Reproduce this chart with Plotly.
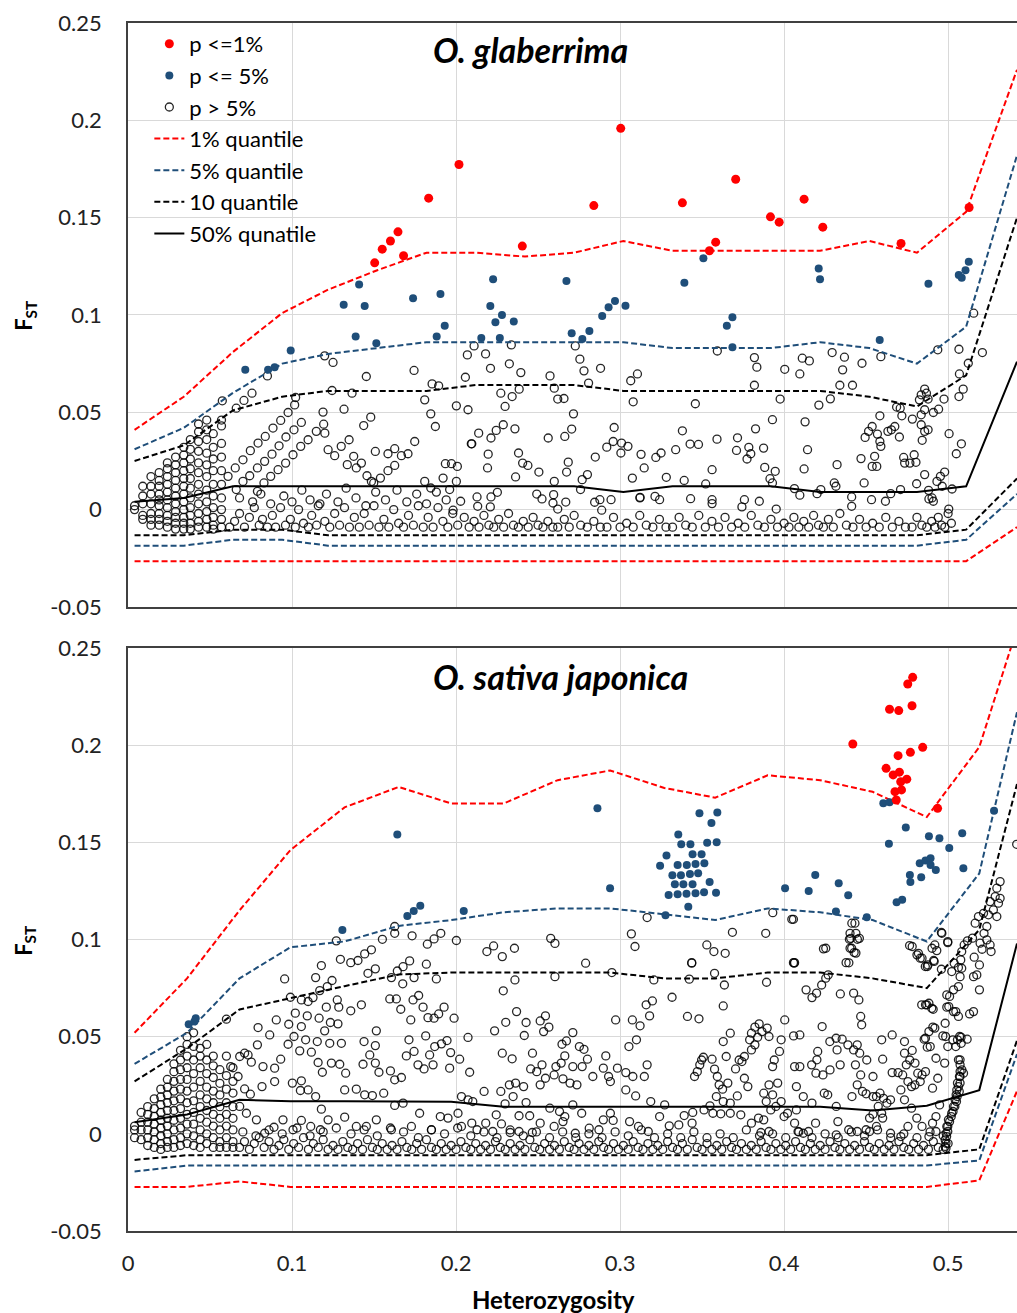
import plotly.graph_objects as go

# ---------------- quantile lines ----------------
qx_top = [0.004, 0.034, 0.064, 0.094, 0.122, 0.152, 0.182, 0.212, 0.242, 0.272, 0.302,
          0.332, 0.362, 0.392, 0.422, 0.452, 0.481, 0.511, 0.542]
q1_hi_top = [0.041, 0.058, 0.081, 0.101, 0.113, 0.123, 0.132, 0.132, 0.130, 0.132, 0.138,
             0.133, 0.133, 0.133, 0.133, 0.138, 0.132, 0.153, 0.226]
q5_hi_top = [0.031, 0.042, 0.060, 0.075, 0.080, 0.083, 0.086, 0.086, 0.086, 0.086, 0.086,
             0.083, 0.083, 0.083, 0.086, 0.083, 0.075, 0.094, 0.182]
q10_hi_top = [0.025, 0.033, 0.051, 0.058, 0.061, 0.061, 0.061, 0.064, 0.064, 0.064, 0.061,
              0.061, 0.061, 0.061, 0.061, 0.058, 0.053, 0.069, 0.150]
q50_top = [0.004, 0.006, 0.012, 0.012, 0.012, 0.012, 0.012, 0.012, 0.012, 0.012, 0.009,
           0.012, 0.012, 0.012, 0.009, 0.009, 0.009, 0.012, 0.076]
q10_lo_top = [-0.0132, -0.0132, -0.0103, -0.0103, -0.0132, -0.0132, -0.0132, -0.0132, -0.0132,
              -0.0132, -0.0132, -0.0132, -0.0132, -0.0132, -0.0132, -0.0132, -0.0132, -0.0103, 0.016]
q5_lo_top = [-0.0185, -0.0185, -0.0155, -0.0155, -0.0185, -0.0185, -0.0185, -0.0185, -0.0185,
             -0.0185, -0.0185, -0.0185, -0.0185, -0.0185, -0.0185, -0.0185, -0.0185, -0.0155, 0.008]
q1_lo_top = [-0.0265, -0.0265, -0.0265, -0.0265, -0.0265, -0.0265, -0.0265, -0.0265, -0.0265,
             -0.0265, -0.0265, -0.0265, -0.0265, -0.0265, -0.0265, -0.0265, -0.0265, -0.0265, -0.009]

qx_bot = [0.004, 0.036, 0.068, 0.099, 0.132, 0.165, 0.197, 0.229, 0.262, 0.294, 0.327,
          0.358, 0.390, 0.422, 0.454, 0.487, 0.519, 0.542]
q1_hi_bot = [0.052, 0.080, 0.115, 0.146, 0.168, 0.1785, 0.170, 0.170, 0.182, 0.187, 0.178,
             0.173, 0.1845, 0.182, 0.176, 0.163, 0.199, 0.260]
q5_hi_bot = [0.036, 0.052, 0.080, 0.096, 0.099, 0.107, 0.110, 0.114, 0.116, 0.116, 0.113,
             0.110, 0.116, 0.114, 0.110, 0.099, 0.134, 0.217]
q10_hi_bot = [0.027, 0.044, 0.064, 0.070, 0.076, 0.082, 0.083, 0.083, 0.083, 0.083, 0.080,
              0.080, 0.083, 0.083, 0.080, 0.075, 0.105, 0.180]
q50_bot = [0.006, 0.010, 0.0175, 0.0168, 0.0168, 0.0168, 0.0165, 0.014, 0.014, 0.014, 0.014,
           0.014, 0.014, 0.014, 0.012, 0.0145, 0.0225, 0.098]
q10_lo_bot = [-0.0134, -0.011, -0.011, -0.011, -0.011, -0.011, -0.011, -0.011, -0.011, -0.011,
              -0.011, -0.011, -0.011, -0.011, -0.011, -0.011, -0.008, 0.048]
q5_lo_bot = [-0.0194, -0.0163, -0.0163, -0.0163, -0.0163, -0.0163, -0.0163, -0.0163, -0.0163,
             -0.0163, -0.0163, -0.0163, -0.0163, -0.0163, -0.0163, -0.0163, -0.0137, 0.041]
q1_lo_bot = [-0.0273, -0.0273, -0.0245, -0.0273, -0.0273, -0.0273, -0.0273, -0.0273, -0.0273,
             -0.0273, -0.0273, -0.0273, -0.0273, -0.0273, -0.0273, -0.0273, -0.024, 0.022]

# ---------------- significant loci ----------------
top_red = [(0.1504, 0.1268), (0.1550, 0.1338), (0.1600, 0.1380), (0.1646, 0.1427), (0.1680, 0.1304),
           (0.1833, 0.1600), (0.2018, 0.1773), (0.2404, 0.1354), (0.2840, 0.1562), (0.3004, 0.1959),
           (0.3380, 0.1576), (0.3583, 0.1374), (0.3545, 0.1330), (0.3705, 0.1697), (0.3917, 0.1504),
           (0.3970, 0.1477), (0.4122, 0.1595), (0.4236, 0.1451), (0.4713, 0.1367), (0.5128, 0.1552)]
top_blue = [(0.0715, 0.0718), (0.0854, 0.0718), (0.0894, 0.0732), (0.0992, 0.0817), (0.1315, 0.1053),
            (0.1443, 0.1046), (0.1409, 0.1157), (0.1388, 0.0889), (0.1514, 0.0855), (0.1738, 0.1086),
            (0.1882, 0.0889), (0.1931, 0.0944), (0.1905, 0.1108), (0.2226, 0.1183), (0.2209, 0.1046),
            (0.2280, 0.1000), (0.2240, 0.0962), (0.2352, 0.0966), (0.2154, 0.0882), (0.2267, 0.0882),
            (0.2673, 0.1174), (0.2705, 0.0906), (0.2770, 0.0877), (0.2813, 0.0918), (0.2891, 0.0995),
            (0.2930, 0.1040), (0.2969, 0.1072), (0.3033, 0.1048), (0.3392, 0.1166), (0.3508, 0.1291),
            (0.3651, 0.0945), (0.3685, 0.0988), (0.3685, 0.0834), (0.4211, 0.1239), (0.4219, 0.1183),
            (0.4583, 0.0872), (0.4880, 0.1161), (0.5065, 0.1205), (0.5083, 0.1191), (0.5106, 0.1230),
            (0.5126, 0.1273)]
bot_red = [(0.4419, 0.2006), (0.4643, 0.2185), (0.4699, 0.2178), (0.4754, 0.2315), (0.4784, 0.2349),
           (0.4780, 0.2203), (0.4845, 0.1989), (0.4695, 0.1946), (0.4770, 0.1963), (0.4622, 0.1881),
           (0.4665, 0.1847), (0.4703, 0.1861), (0.4711, 0.1812), (0.4748, 0.1825), (0.4676, 0.1761),
           (0.4716, 0.1770), (0.4684, 0.1718), (0.4936, 0.1675)]
bot_blue = [(0.0370, 0.0564), (0.0413, 0.0595), (0.0405, 0.0578), (0.1307, 0.1049), (0.1642, 0.1540),
            (0.1703, 0.1121), (0.1742, 0.1147), (0.1782, 0.1174), (0.2047, 0.1147), (0.2862, 0.1675),
            (0.2939, 0.1264),
            (0.3484, 0.1650), (0.3593, 0.1653), (0.3557, 0.1600), (0.3355, 0.1540), (0.3373, 0.1490),
            (0.3429, 0.1490), (0.3531, 0.1498), (0.3589, 0.1500), (0.3283, 0.1432), (0.3442, 0.1439),
            (0.3497, 0.1439), (0.3244, 0.1379), (0.3351, 0.1384), (0.3407, 0.1384), (0.3460, 0.1389),
            (0.3514, 0.1393), (0.3319, 0.1331), (0.3371, 0.1331), (0.3426, 0.1337), (0.3476, 0.1341),
            (0.3334, 0.1284), (0.3386, 0.1284), (0.3442, 0.1284), (0.3546, 0.1296), (0.3296, 0.1229),
            (0.3351, 0.1233), (0.3405, 0.1235), (0.3460, 0.1238), (0.3512, 0.1243), (0.3585, 0.1241),
            (0.3416, 0.1169), (0.3277, 0.1125),
            (0.4006, 0.1264), (0.4150, 0.1250), (0.4190, 0.1332), (0.4333, 0.1290), (0.4391, 0.1228),
            (0.4316, 0.1144), (0.4504, 0.1115), (0.4605, 0.1701), (0.4643, 0.1706), (0.4742, 0.1576),
            (0.4639, 0.1493), (0.4883, 0.1531), (0.4947, 0.1521), (0.5086, 0.1547), (0.5007, 0.1471),
            (0.4827, 0.1393), (0.4862, 0.1406), (0.4893, 0.1418), (0.4893, 0.1384), (0.4925, 0.1358),
            (0.4767, 0.1332), (0.4770, 0.1296), (0.4836, 0.1320), (0.5093, 0.1367), (0.4686, 0.1192),
            (0.4720, 0.1204), (0.5280, 0.1663)]

# ---------------- non-significant loci (p > 5%) ----------------
top_dense_cols = {
    0.004: [0.002, 0.000],
    0.009: [0.012, 0.007, 0.003, -0.003, -0.005],
    0.014: [0.017, 0.012, 0.008, 0.003, -0.002, -0.005, -0.008],
    0.019: [0.019, 0.015, 0.012, 0.008, 0.005, 0.002, -0.002, -0.005, -0.008],
    0.024: [0.024, 0.021, 0.017, 0.013, 0.009, 0.005, 0.001, -0.003, -0.006, -0.009],
    0.029: [0.027, 0.023, 0.019, 0.015, 0.011, 0.007, 0.003, -0.001, -0.004, -0.007, -0.010],
    0.034: [0.032, 0.028, 0.024, 0.020, 0.016, 0.012, 0.008, 0.004, 0.000, -0.004, -0.007, -0.010],
    0.038: [0.036, 0.031, 0.026, 0.021, 0.016, 0.011, 0.006, 0.001, -0.003, -0.007, -0.010],
    0.043: [0.044, 0.040, 0.035, 0.030, 0.024, 0.019, 0.013, 0.008, 0.003, -0.002, -0.006, -0.009],
    0.048: [0.046, 0.041, 0.036, 0.029, 0.023, 0.017, 0.010, 0.004, -0.001, -0.005, -0.009],
    0.052: [0.039, 0.032, 0.026, 0.020, 0.013, 0.007, 0.001, -0.004, -0.008, -0.010],
    0.057: [0.046, 0.043, 0.034, 0.027, 0.020, 0.013, 0.006, 0.000, -0.005, -0.009],
}
top_open = [
    (0.0575, 0.0559), (0.066, 0.0521), (0.0707, 0.0561), (0.0756, 0.0598), (0.085, 0.0687),
    (0.1022, 0.0576), (0.1016, 0.0538), (0.0976, 0.0499), (0.0931, 0.0458), (0.0884, 0.0419),
    (0.0837, 0.0376), (0.0793, 0.0342), (0.0746, 0.0303), (0.0701, 0.0256), (0.0654, 0.0214),
    (0.061, 0.0171), (0.1199, 0.079), (0.125, 0.0756), (0.1453, 0.0684), (0.1244, 0.0612),
    (0.1366, 0.0598), (0.1317, 0.0516), (0.1189, 0.0501), (0.148, 0.0475), (0.1437, 0.0432),
    (0.1193, 0.0439), (0.1057, 0.0448), (0.1012, 0.041), (0.0963, 0.0373), (0.0921, 0.0328),
    (0.0878, 0.0285), (0.0833, 0.0248), (0.0789, 0.0214), (0.0742, 0.0174), (0.0701, 0.0145),
    (0.066, 0.0103), (0.12, 0.0393), (0.1148, 0.0402), (0.1098, 0.0359), (0.1053, 0.0325),
    (0.1006, 0.0282), (0.0961, 0.0239), (0.0915, 0.0205), (0.087, 0.0171), (0.0829, 0.0137),
    (0.0789, 0.0094), (0.122, 0.0308), (0.130, 0.0325), (0.1348, 0.0359), (0.126, 0.0277),
    (0.1337, 0.0231), (0.1376, 0.0274), (0.1392, 0.0214), (0.1423, 0.0239), (0.1457, 0.0174),
    (0.1498, 0.0137), (0.1508, 0.0299), (0.1585, 0.0287), (0.1626, 0.0313), (0.1667, 0.0277),
    (0.1707, 0.0287), (0.1748, 0.035), (0.1626, 0.0227), (0.1585, 0.02), (0.1539, 0.0162),
    (0.1484, 0.0145), (0.1744, 0.0715), (0.1809, 0.0564), (0.1846, 0.0492), (0.1874, 0.0427),
    (0.1854, 0.0646), (0.1894, 0.0636), (0.2002, 0.0533), (0.2057, 0.068), (0.2069, 0.0795),
    (0.2073, 0.0513), (0.2093, 0.0338), (0.1935, 0.0236), (0.1972, 0.0236), (0.2008, 0.0222),
    (0.1921, 0.0162), (0.1809, 0.0145), (0.1846, 0.0111), (0.1961, 0.0103), (0.2002, 0.0145),
    (0.2028, 0.0043), (0.1982, -0.0003),
    (0.068, 0.006), (0.076, 0.004), (0.081, 0.008), (0.087, 0.003), (0.095, 0.007), (0.100, 0.004),
    (0.106, 0.010), (0.111, 0.005), (0.116, 0.002), (0.121, 0.008), (0.128, 0.004), (0.133, 0.011),
    (0.139, 0.006), (0.145, 0.002), (0.151, 0.009), (0.157, 0.005), (0.164, 0.010), (0.170, 0.004),
    (0.176, 0.008), (0.182, 0.003), (0.188, 0.009), (0.194, 0.005),
    (0.211, 0.0841), (0.218, 0.080), (0.221, 0.0726), (0.2325, 0.0749), (0.2395, 0.0704),
    (0.2337, 0.0846), (0.2573, 0.0687), (0.2599, 0.0624), (0.262, 0.0568), (0.2658, 0.0571),
    (0.2385, 0.0619), (0.2342, 0.0581), (0.2273, 0.0598), (0.2299, 0.053), (0.2727, 0.0841),
    (0.2755, 0.0773), (0.278, 0.0713), (0.2881, 0.0726), (0.2808, 0.065), (0.2716, 0.0492),
    (0.2705, 0.0414), (0.2288, 0.0436), (0.2359, 0.0415), (0.2245, 0.0407), (0.2213, 0.0368),
    (0.2138, 0.0393), (0.2096, 0.0338), (0.2196, 0.0285), (0.2381, 0.0291), (0.2406, 0.0239),
    (0.2438, 0.0227), (0.2192, 0.0214), (0.2363, 0.0168), (0.2505, 0.0193), (0.2562, 0.0368),
    (0.2663, 0.0376), (0.2684, 0.0244), (0.2674, 0.0193), (0.2599, 0.0145), (0.2769, 0.0154),
    (0.2801, 0.018), (0.2849, 0.027), (0.2919, 0.0321), (0.2958, 0.035), (0.2964, 0.0422),
    (0.3009, 0.0342), (0.3048, 0.0325), (0.3005, 0.0291), (0.3065, 0.0662), (0.3106, 0.0697),
    (0.308, 0.0554), (0.3128, 0.0284), (0.3147, 0.0214), (0.3218, 0.0268), (0.325, 0.0291),
    (0.3075, 0.0162), (0.3122, 0.0063), (0.3282, 0.0166), (0.3339, 0.0308), (0.338, 0.0405),
    (0.3427, 0.0337), (0.3478, 0.0335), (0.3459, 0.0544), (0.3391, 0.015), (0.343, 0.0056),
    (0.3522, 0.0132), (0.3561, 0.0205), (0.3591, 0.0362), (0.3593, 0.0815), (0.3716, 0.0369),
    (0.371, 0.0304), (0.3785, 0.032), (0.3797, 0.0287), (0.3774, 0.026), (0.3826, 0.0415),
    (0.3875, 0.0316), (0.3882, 0.0217), (0.3929, 0.0462), (0.3819, 0.0781), (0.3834, 0.0732),
    (0.3819, 0.0639), (0.3946, 0.0197), (0.3914, 0.0159), (0.3929, 0.0137), (0.3976, 0.0568),
    (0.4004, 0.0721), (0.4096, 0.0697), (0.4111, 0.0778), (0.4154, 0.0764), (0.4128, 0.0451),
    (0.4143, 0.0308), (0.4122, 0.0209), (0.4212, 0.0537), (0.4282, 0.0569), (0.4293, 0.0807),
    (0.4357, 0.0718), (0.4368, 0.0783), (0.434, 0.0639), (0.4417, 0.0639), (0.4475, 0.0752),
    (0.4323, 0.0231), (0.4306, 0.0137), (0.4469, 0.0262), (0.4488, 0.0137), (0.4494, 0.0371),
    (0.4515, 0.0402), (0.4537, 0.0427), (0.4569, 0.0388), (0.4584, 0.035), (0.459, 0.0325),
    (0.4537, 0.0222), (0.4565, 0.0222), (0.4552, 0.0274), (0.4584, 0.0482), (0.459, 0.0786),
    (0.4633, 0.0402), (0.4654, 0.041), (0.4675, 0.0427), (0.4703, 0.0373), (0.4686, 0.0527),
    (0.4718, 0.0482), (0.4708, 0.0521), (0.4729, 0.0268), (0.4735, 0.0239), (0.4767, 0.0239),
    (0.4793, 0.0282), (0.4804, 0.0243), (0.4782, 0.0465), (0.4842, 0.0356), (0.4836, 0.0436),
    (0.4857, 0.0402), (0.4878, 0.041), (0.4836, 0.0487), (0.4857, 0.0513), (0.4825, 0.0564),
    (0.4836, 0.059), (0.4857, 0.0619), (0.4868, 0.0598), (0.4878, 0.0568), (0.491, 0.0499),
    (0.4942, 0.0516), (0.4975, 0.0568), (0.4857, 0.018), (0.4808, 0.0133), (0.4932, 0.0145),
    (0.4953, 0.0171), (0.4979, 0.0193), (0.4964, 0.012), (0.4937, 0.0821), (0.5066, 0.0824),
    (0.5209, 0.0807), (0.5156, 0.1009), (0.5123, 0.0752), (0.5069, 0.0697), (0.5066, 0.0581),
    (0.5092, 0.0619), (0.5006, 0.039), (0.5081, 0.0338), (0.505, 0.0287), (0.5024, 0.0106),
    (0.4883, 0.0055), (0.491, 0.0043),
    (0.2128, 0.0065), (0.2132, 0.0017), (0.2213, 0.0065), (0.2209, 0.0014), (0.2252, 0.0089),
    (0.2492, 0.008), (0.2524, 0.0055), (0.2595, 0.0077), (0.2591, 0.0034), (0.262, 0.0003),
    (0.2669, 0.0039), (0.2759, 0.0103), (0.2845, 0.0038), (0.2877, 0.0051), (0.2888, -0.0003),
    (0.2945, 0.0051), (0.3121, 0.006), (0.3213, 0.0068), (0.3241, 0.0051), (0.3561, 0.0051),
    (0.3561, 0.0031), (0.3758, 0.0051), (0.3743, 0.0014), (0.3849, 0.0043), (0.3952, 0.0003),
    (0.4063, 0.0108), (0.4096, 0.0074), (0.4201, 0.0082), (0.4224, 0.0103), (0.4316, 0.012),
    (0.4412, 0.0065), (0.4412, 0.0017), (0.4533, 0.0051), (0.4618, 0.0043), (0.465, 0.0082),
    (0.471, 0.0103), (0.4881, 0.0099), (0.4902, 0.006), (0.5004, 0.0003),
]
top_band = [
    (0.062, -0.009), (0.065, -0.006), (0.068, -0.002), (0.071, -0.009), (0.074, -0.004), (0.077, 0.001),
    (0.080, -0.008), (0.082, -0.005), (0.085, -0.009), (0.088, -0.003), (0.090, -0.009), (0.093, 0.001),
    (0.096, -0.008), (0.099, -0.005), (0.102, -0.009), (0.104, 0.000), (0.107, -0.007), (0.110, -0.009),
    (0.112, -0.003), (0.115, -0.008), (0.117, 0.003), (0.120, -0.006), (0.123, -0.009), (0.126, -0.002),
    (0.129, -0.008), (0.132, 0.001), (0.135, -0.009), (0.138, -0.004), (0.141, -0.009), (0.144, -0.002),
    (0.147, -0.008), (0.150, 0.002), (0.153, -0.009), (0.156, -0.005), (0.159, -0.009), (0.162, 0.000),
    (0.165, -0.007), (0.168, -0.009), (0.171, -0.003), (0.174, -0.008), (0.177, 0.002), (0.180, -0.009),
    (0.183, -0.004), (0.186, -0.009), (0.189, 0.001), (0.192, -0.006), (0.195, -0.009), (0.198, -0.002),
    (0.201, -0.008), (0.205, -0.004), (0.208, -0.009), (0.211, -0.006), (0.214, -0.009), (0.217, -0.003),
    (0.220, -0.008), (0.223, -0.009), (0.226, -0.005), (0.229, -0.009), (0.232, -0.002), (0.235, -0.008),
    (0.238, -0.009), (0.241, -0.006), (0.244, -0.009), (0.247, -0.004), (0.250, -0.008), (0.253, -0.009),
    (0.256, -0.006), (0.259, -0.009), (0.262, -0.009), (0.266, -0.005), (0.269, -0.009), (0.272, -0.003),
    (0.276, -0.008), (0.280, -0.009), (0.284, -0.006), (0.288, -0.009), (0.292, -0.009), (0.296, -0.004),
    (0.300, -0.009), (0.304, -0.007), (0.308, -0.009), (0.312, -0.003), (0.316, -0.008), (0.320, -0.009),
    (0.324, -0.005), (0.328, -0.009), (0.332, -0.009), (0.336, -0.004), (0.340, -0.008), (0.344, -0.009),
    (0.348, -0.003), (0.352, -0.009), (0.356, -0.006), (0.360, -0.009), (0.364, -0.004), (0.368, -0.009),
    (0.372, -0.007), (0.376, -0.009), (0.380, -0.003), (0.384, -0.008), (0.388, -0.009), (0.392, -0.005),
    (0.396, -0.009), (0.400, -0.007), (0.403, -0.009), (0.406, -0.004), (0.409, -0.009), (0.412, -0.006),
    (0.415, -0.009), (0.418, -0.003), (0.421, -0.008), (0.424, -0.009), (0.427, -0.005), (0.430, -0.009),
    (0.434, -0.002), (0.438, -0.008), (0.442, -0.009), (0.446, -0.005), (0.450, -0.009), (0.454, -0.007),
    (0.458, -0.009), (0.462, -0.004), (0.466, -0.009), (0.470, -0.006), (0.474, -0.009), (0.478, -0.009),
    (0.481, -0.004), (0.484, -0.008), (0.487, -0.009), (0.490, -0.006), (0.492, -0.009), (0.494, -0.004),
    (0.496, -0.008), (0.498, -0.009), (0.500, -0.002), (0.502, -0.007),
]

bot_dense_cols = {
    0.004: [0.004, 0.002, -0.002],
    0.008: [0.011, 0.006, 0.002, -0.003],
    0.012: [0.014, 0.010, 0.006, 0.002, -0.002, -0.006],
    0.016: [0.018, 0.013, 0.009, 0.005, 0.001, -0.003, -0.007],
    0.020: [0.023, 0.019, 0.015, 0.011, 0.007, 0.003, -0.001, -0.005, -0.008],
    0.024: [0.028, 0.024, 0.020, 0.016, 0.012, 0.008, 0.004, 0.000, -0.004, -0.007],
    0.028: [0.036, 0.032, 0.027, 0.022, 0.017, 0.012, 0.007, 0.002, -0.003, -0.007],
    0.032: [0.043, 0.038, 0.033, 0.028, 0.023, 0.018, 0.013, 0.008, 0.003, -0.002, -0.006],
    0.036: [0.050, 0.046, 0.040, 0.034, 0.028, 0.022, 0.016, 0.010, 0.005, 0.000, -0.005],
    0.040: [0.052, 0.045, 0.038, 0.031, 0.024, 0.017, 0.011, 0.005, -0.001, -0.006],
    0.044: [0.044, 0.040, 0.034, 0.027, 0.020, 0.014, 0.008, 0.002, -0.003, -0.007],
    0.048: [0.046, 0.038, 0.031, 0.024, 0.018, 0.012, 0.006, 0.000, -0.005],
    0.052: [0.040, 0.035, 0.029, 0.022, 0.016, 0.010, 0.004, -0.002, -0.007],
    0.056: [0.033, 0.026, 0.020, 0.014, 0.008, 0.002, -0.004, -0.007],
    0.060: [0.059, 0.040, 0.030, 0.023, 0.016, 0.010, 0.004, -0.002, -0.007],
    0.064: [0.034, 0.027, 0.021, 0.014, 0.008, 0.002, -0.004, -0.007],
}
bot_open = [
    (0.0955, 0.0797), (0.1144, 0.0804), (0.1179, 0.0866), (0.1295, 0.0898), (0.1358, 0.0881),
    (0.1402, 0.0892), (0.1443, 0.0926), (0.1484, 0.0947), (0.1551, 0.1001), (0.1626, 0.1067),
    (0.1626, 0.1032), (0.1732, 0.1019), (0.1825, 0.0976), (0.1866, 0.1003), (0.1907, 0.1032),
    (0.2002, 0.0995), (0.127, 0.0993), (0.1463, 0.0826), (0.1508, 0.0849), (0.1606, 0.0804),
    (0.1642, 0.0838), (0.1677, 0.086), (0.1717, 0.089), (0.1819, 0.0873), (0.188, 0.0797),
    (0.1744, 0.0804), (0.1675, 0.0772), (0.1596, 0.0694), (0.1636, 0.0694), (0.1738, 0.0689),
    (0.1772, 0.0712), (0.1663, 0.0641), (0.1799, 0.0652), (0.1829, 0.0598), (0.1866, 0.0595),
    (0.1894, 0.0617), (0.1927, 0.0652), (0.1988, 0.0595), (0.1724, 0.0586), (0.1514, 0.053),
    (0.1358, 0.0633), (0.1423, 0.0664), (0.1244, 0.0789), (0.1215, 0.0758), (0.1169, 0.0737),
    (0.1128, 0.0701), (0.1098, 0.0681), (0.1057, 0.0689), (0.099, 0.0703), (0.102, 0.0621),
    (0.1093, 0.0607), (0.1165, 0.0595), (0.1209, 0.0652), (0.1276, 0.0689), (0.1285, 0.0652),
    (0.1234, 0.0573), (0.128, 0.0566), (0.1057, 0.0552), (0.098, 0.0564), (0.0904, 0.0586),
    (0.0793, 0.0547), (0.0864, 0.0509), (0.0789, 0.0458), (0.0732, 0.0406), (0.0681, 0.0398),
    (0.0626, 0.0346), (0.0671, 0.0295), (0.0711, 0.0415), (0.0752, 0.0369), (0.0823, 0.0346),
    (0.0894, 0.0338), (0.0931, 0.0384), (0.0976, 0.0461), (0.1012, 0.0501), (0.1047, 0.0427),
    (0.1083, 0.0484), (0.1118, 0.042), (0.1154, 0.0475), (0.1159, 0.0367), (0.123, 0.0466),
    (0.1301, 0.0466), (0.1199, 0.053), (0.124, 0.0364), (0.1185, 0.0317), (0.1291, 0.0358),
    (0.1327, 0.0312), (0.1439, 0.0475), (0.1508, 0.0454), (0.1474, 0.0406), (0.1508, 0.0364),
    (0.1433, 0.0358), (0.153, 0.0317), (0.16, 0.0324), (0.1626, 0.0278), (0.1667, 0.029),
    (0.1713, 0.0484), (0.1744, 0.0424), (0.1697, 0.0401), (0.1768, 0.0355), (0.1805, 0.0334),
    (0.186, 0.0355), (0.1839, 0.0406), (0.187, 0.0449), (0.1911, 0.0463), (0.1945, 0.048),
    (0.1967, 0.0418), (0.2022, 0.0384), (0.1961, 0.0338), (0.2073, 0.0496), (0.2083, 0.0317),
    (0.1815, 0.0504), (0.0711, 0.0231), (0.0746, 0.0204), (0.0817, 0.0243), (0.0894, 0.0269),
    (0.1002, 0.0261), (0.1051, 0.0223), (0.1098, 0.0226), (0.1144, 0.0192), (0.1057, 0.0273),
    (0.1179, 0.0127), (0.122, 0.0072), (0.1321, 0.0226), (0.1392, 0.023), (0.1443, 0.0201),
    (0.149, 0.0197), (0.1559, 0.0209), (0.1626, 0.0146), (0.1677, 0.0158), (0.1778, 0.0106),
    (0.1904, 0.0089), (0.1951, 0.0081), (0.2012, 0.0106), (0.2033, 0.0192), (0.2073, 0.0175),
    (0.1514, 0.0072), (0.1453, 0.0038), (0.1392, 0.0038), (0.1321, 0.0086), (0.1173, 0.0021),
    (0.1114, 0.0038), (0.1057, 0.0069), (0.1006, 0.0021), (0.0945, 0.0072), (0.089, 0.0034),
    (0.0833, 0.0003), (0.0783, 0.0072), (0.0722, 0.0106), (0.0681, 0.0141), (0.1606, 0.0021),
    (0.1728, 0.0038), (0.185, 0.0021), (0.2033, 0.0038),
    (0.2188, 0.0938), (0.2282, 0.0912), (0.2359, 0.0792), (0.2288, 0.0736), (0.2369, 0.0629),
    (0.2303, 0.0574), (0.2235, 0.053), (0.2427, 0.0573), (0.2416, 0.0506), (0.2513, 0.0581),
    (0.2545, 0.0607), (0.2534, 0.0526), (0.2566, 0.0549), (0.2603, 0.0809), (0.279, 0.0878),
    (0.295, 0.083), (0.2712, 0.0521), (0.2646, 0.0461), (0.2673, 0.0478), (0.2752, 0.0449),
    (0.278, 0.0435), (0.2282, 0.0415), (0.2342, 0.0386), (0.2466, 0.0415), (0.2663, 0.0401),
    (0.2801, 0.0384), (0.2769, 0.0346), (0.2913, 0.0401), (0.2973, 0.0586), (0.2712, 0.0346),
    (0.2641, 0.0364), (0.2609, 0.0346), (0.2524, 0.0355), (0.2492, 0.032), (0.2455, 0.0334),
    (0.2598, 0.0303), (0.2545, 0.0286), (0.2513, 0.0252), (0.2652, 0.0283), (0.2695, 0.0261),
    (0.2737, 0.0252), (0.2834, 0.0295), (0.2898, 0.0338), (0.293, 0.0295), (0.2941, 0.0269),
    (0.2984, 0.0338), (0.2363, 0.0261), (0.2412, 0.0243), (0.2325, 0.0252), (0.2273, 0.0218),
    (0.2348, 0.0192), (0.2171, 0.0218), (0.2102, 0.0166), (0.2245, 0.0098), (0.2299, 0.0154),
    (0.2384, 0.0093), (0.2427, 0.0161), (0.2449, 0.0093), (0.2572, 0.0132), (0.2631, 0.0115),
    (0.2663, 0.0089), (0.2712, 0.0149), (0.2766, 0.0106), (0.2812, 0.0029), (0.2871, 0.0021),
    (0.2941, 0.0106), (0.2958, 0.0069), (0.2898, 0.0072), (0.2096, 0.0055), (0.2128, 0.0021),
    (0.2181, 0.0055), (0.2224, 0.0012), (0.2277, 0.0051), (0.233, 0.0007), (0.2384, 0.0012),
    (0.2465, 0.0007), (0.2513, 0.0055), (0.2598, 0.0038), (0.2652, 0.0063), (0.2727, 0.0003),
    (0.3075, 0.0586), (0.3122, 0.0556), (0.31, 0.0484), (0.3054, 0.0449), (0.3165, 0.0355),
    (0.3148, 0.0295), (0.3197, 0.0684), (0.318, 0.0607), (0.3317, 0.0703), (0.3159, 0.0664),
    (0.3206, 0.0792), (0.3422, 0.0796), (0.3411, 0.0604), (0.3437, 0.0878), (0.3481, 0.0592),
    (0.3035, 0.0315), (0.3078, 0.0295), (0.3035, 0.0226), (0.3095, 0.0195), (0.3187, 0.0166),
    (0.3241, 0.0089), (0.3272, 0.0149), (0.33, 0.0041), (0.3358, 0.0046), (0.3391, 0.0094),
    (0.3439, 0.0055), (0.3058, 0.0063), (0.3112, 0.0038), (0.3172, 0.0012), (0.3443, 0.011),
    (0.3454, 0.0295), (0.3471, 0.032), (0.3486, 0.0355), (0.3497, 0.038), (0.3508, 0.0394),
    (0.3561, 0.0384), (0.3576, 0.0333), (0.3593, 0.0295), (0.3604, 0.0252), (0.3625, 0.023),
    (0.3657, 0.0261), (0.3647, 0.0398), (0.3704, 0.0334), (0.3743, 0.0372), (0.3758, 0.0398),
    (0.3801, 0.0432), (0.3822, 0.0458), (0.3801, 0.0518), (0.3822, 0.0549), (0.3848, 0.0566),
    (0.3865, 0.0526), (0.3897, 0.0544), (0.3908, 0.0501), (0.3839, 0.0497), (0.379, 0.0484),
    (0.3758, 0.0286), (0.3779, 0.0243), (0.3715, 0.0195), (0.3672, 0.0158), (0.3629, 0.0166),
    (0.3587, 0.0192), (0.3548, 0.0144), (0.3512, 0.0123), (0.3566, 0.0106), (0.3614, 0.0103),
    (0.3672, 0.0106), (0.3736, 0.0098), (0.3801, 0.0055), (0.3844, 0.0081), (0.3876, 0.0072),
    (0.3919, 0.0123), (0.395, 0.0141), (0.3982, 0.0166), (0.3961, 0.0261), (0.3908, 0.0252),
    (0.3876, 0.0209), (0.393, 0.0201), (0.394, 0.038), (0.3972, 0.0424), (0.4004, 0.0586),
    (0.3982, 0.0484), (0.393, 0.0346), (0.3891, 0.0166), (0.3859, 0.0007), (0.3908, 0.0012),
    (0.3629, 0.0658), (0.3636, 0.0766), (0.3576, 0.0826), (0.3672, 0.0518), (0.3629, 0.0475),
    (0.3726, 0.038), (0.3893, 0.078), (0.4061, 0.0878),
    (0.4058, 0.0504), (0.4096, 0.0509), (0.4134, 0.0741), (0.4198, 0.0724), (0.417, 0.0701),
    (0.4229, 0.0766), (0.4254, 0.0801), (0.4269, 0.0818), (0.4232, 0.0552), (0.4279, 0.0475),
    (0.4317, 0.0492), (0.4354, 0.0487), (0.4323, 0.0432), (0.4343, 0.072), (0.4424, 0.0724),
    (0.4456, 0.0689), (0.4467, 0.0604), (0.4473, 0.0561), (0.4342, 0.0355), (0.428, 0.0329),
    (0.4237, 0.0303), (0.4194, 0.0312), (0.4168, 0.0355), (0.4205, 0.0424), (0.42, 0.0381),
    (0.4096, 0.0346), (0.4064, 0.0346), (0.4075, 0.0243), (0.4117, 0.0192), (0.417, 0.0158),
    (0.4245, 0.0209), (0.4266, 0.0201), (0.4318, 0.0141), (0.4328, 0.0063), (0.4414, 0.0192),
    (0.4446, 0.0252), (0.4467, 0.0303), (0.4478, 0.0218), (0.45, 0.0206), (0.4504, 0.038),
    (0.4435, 0.0355), (0.4389, 0.0458), (0.4424, 0.0432), (0.4446, 0.0458), (0.4461, 0.0415),
    (0.4542, 0.0295), (0.4085, 0.0012), (0.4117, 0.0003), (0.4149, 0.0012), (0.4318, -0.0005),
    (0.4446, 0.0012), (0.45, 0.0021), (0.4394, 0.0021), (0.4192, 0.0055), (0.4064, 0.0055),
    (0.4021, 0.0106), (0.4, 0.0089), (0.4075, 0.0123),
    (0.4542, 0.0192), (0.4563, 0.0192), (0.4585, 0.0209), (0.4606, 0.0183), (0.4627, 0.0158),
    (0.4649, 0.0175), (0.4595, 0.0106), (0.4574, 0.0141), (0.4601, 0.0081), (0.4542, 0.0101),
    (0.4521, 0.0081), (0.4563, 0.0038), (0.4521, 0.0012), (0.4595, 0.0484), (0.4601, 0.0384),
    (0.4659, 0.0315), (0.4695, 0.0315), (0.4723, 0.0303), (0.4755, 0.0269), (0.4777, 0.0243),
    (0.4798, 0.0252), (0.483, 0.0269), (0.4815, 0.0312), (0.4841, 0.0303), (0.4862, 0.032),
    (0.4734, 0.0415), (0.4781, 0.0429), (0.4798, 0.0364), (0.4745, 0.0355), (0.4766, 0.038),
    (0.4659, 0.0509), (0.4734, 0.0475), (0.4862, 0.0492), (0.4873, 0.0446), (0.4926, 0.0389),
    (0.4979, 0.0364), (0.4883, 0.0526), (0.4919, 0.0544), (0.4985, 0.0501), (0.4862, 0.0664),
    (0.4883, 0.0672), (0.4909, 0.0641), (0.4841, 0.0904), (0.4873, 0.0861), (0.4915, 0.0887),
    (0.5004, 0.0655), (0.5009, 0.0707), (0.5047, 0.0629), (0.5057, 0.0484), (0.5079, 0.0497),
    (0.5116, 0.0487), (0.5047, 0.0449), (0.5073, 0.0381), (0.5084, 0.0329), (0.5094, 0.0312),
    (0.5073, 0.0295), (0.5073, 0.0261), (0.5063, 0.0243), (0.5068, 0.0218), (0.5055, 0.0192),
    (0.5051, 0.0166), (0.5041, 0.0141), (0.503, 0.0115), (0.5019, 0.0089), (0.5009, 0.0063),
    (0.4998, 0.0038), (0.4998, 0.0012), (0.4991, -0.0014), (0.4987, -0.0048), (0.4987, -0.0074),
    (0.4948, 0.0149), (0.4926, 0.0089), (0.4905, 0.0055), (0.4926, 0.0012), (0.4883, -0.0014),
    (0.4841, 0.0038), (0.4809, 0.0081), (0.4755, 0.0038), (0.4712, -0.0014), (0.4649, 0.0003),
    (0.4777, 0.0132), (0.4734, 0.0175), (0.4712, 0.0226), (0.4905, 0.0235), (0.4937, 0.0286),
    (0.4047, 0.1104), (0.4413, 0.1084), (0.4402, 0.1032), (0.4398, 0.1001), (0.4447, 0.1001),
    (0.4402, 0.0955), (0.4427, 0.0933), (0.4378, 0.0881), (0.424, 0.0952), (0.4057, 0.0881),
    (0.4765, 0.0969), (0.481, 0.0921), (0.483, 0.0904), (0.4861, 0.0861), (0.4902, 0.0955),
    (0.4912, 0.0892), (0.4959, 0.1036), (0.4998, 0.0989), (0.4959, 0.0847), (0.5022, 0.0835),
    (0.5063, 0.0856), (0.5037, 0.0878), (0.5077, 0.0895), (0.5083, 0.0938), (0.5098, 0.0972),
    (0.5118, 0.0993), (0.5149, 0.1007), (0.5159, 0.0909), (0.5175, 0.0818), (0.5195, 0.0981),
    (0.5207, 0.095), (0.5236, 0.0998), (0.5256, 0.0972), (0.5219, 0.1032), (0.5236, 0.1067),
    (0.5165, 0.1084), (0.5185, 0.1118), (0.5216, 0.1135), (0.5246, 0.1127), (0.5276, 0.1152),
    (0.5297, 0.1118), (0.5307, 0.1187), (0.5317, 0.1212), (0.5287, 0.1221), (0.5297, 0.1264),
    (0.5317, 0.1298), (0.5256, 0.1195), (0.5262, 0.0938), (0.5191, 0.0869), (0.5191, 0.0741),
    (0.5155, 0.0809), (0.5033, 0.0741), (0.5063, 0.0758), (0.4992, 0.0715), (0.5073, 0.0809),
    (0.5083, 0.0852), (0.5155, 0.0629), (0.5131, 0.0617), (0.487, 0.0664), (0.4839, 0.0664),
    (0.49, 0.0646), (0.4992, 0.0652), (0.5033, 0.0629), (0.5063, 0.0604), (0.4982, 0.0569),
    (0.4907, 0.0549), (0.4968, 0.0504), (0.4854, 0.0487), (0.4891, 0.0449), (0.4998, 0.0449),
    (0.5029, 0.0484), (0.507, 0.0501), (0.508, 0.0466), (0.5063, 0.0381), (0.5073, 0.0321),
    (0.5069, 0.0295), (0.5057, 0.0261), (0.5053, 0.0226), (0.5049, 0.0201), (0.5043, 0.0175),
    (0.5033, 0.0141), (0.5022, 0.0106), (0.5002, 0.0072), (0.4992, 0.0038), (0.4988, 0.0003),
    (0.4982, -0.0031), (0.4982, -0.0065), (0.5073, 0.0355), (0.5418, 0.149),
    (0.3165, 0.1113), (0.3931, 0.1138), (0.4057, 0.1104), (0.4432, 0.1084), (0.4438, 0.1032),
    (0.4406, 0.1006), (0.4459, 0.1006), (0.4412, 0.0955), (0.4438, 0.093), (0.4395, 0.088),
    (0.4254, 0.0955), (0.2577, 0.1006), (0.2603, 0.098), (0.3069, 0.1029), (0.3091, 0.0964),
    (0.3685, 0.1037), (0.3888, 0.1032), (0.3572, 0.0938), (0.3529, 0.0972), (0.3641, 0.0929),
    (0.3437, 0.0881), (0.4064, 0.0881), (0.2229, 0.0967), (0.2356, 0.0955), (0.4781, 0.0964),
    (0.4819, 0.0929), (0.4962, 0.1032), (0.4998, 0.0984), (0.4877, 0.0869), (0.4919, 0.0972),
    (0.4931, 0.0943),
]
bot_band = [
    (0.068, -0.007), (0.071, -0.004), (0.074, -0.008), (0.077, -0.005), (0.080, -0.002), (0.083, -0.007),
    (0.086, -0.004), (0.089, -0.008), (0.092, -0.006), (0.095, -0.003), (0.098, -0.008), (0.101, -0.005),
    (0.104, -0.007), (0.107, -0.002), (0.110, -0.008), (0.113, -0.005), (0.116, -0.007), (0.119, -0.003),
    (0.122, -0.008), (0.125, -0.006), (0.128, -0.008), (0.131, -0.004), (0.134, -0.007), (0.137, -0.008),
    (0.140, -0.005), (0.143, -0.008), (0.146, -0.003), (0.149, -0.007), (0.152, -0.008), (0.155, -0.005),
    (0.158, -0.008), (0.161, -0.006), (0.164, -0.008), (0.167, -0.004), (0.170, -0.007), (0.173, -0.008),
    (0.176, -0.005), (0.179, -0.008), (0.182, -0.003), (0.185, -0.007), (0.188, -0.008), (0.191, -0.005),
    (0.194, -0.008), (0.197, -0.006), (0.200, -0.008), (0.203, -0.004), (0.206, -0.007), (0.209, -0.008),
    (0.212, -0.005), (0.215, -0.008), (0.218, -0.006), (0.221, -0.008), (0.224, -0.004), (0.227, -0.007),
    (0.230, -0.008), (0.233, -0.005), (0.236, -0.008), (0.239, -0.006), (0.242, -0.008), (0.245, -0.003),
    (0.248, -0.007), (0.251, -0.008), (0.254, -0.005), (0.257, -0.008), (0.260, -0.006), (0.263, -0.008),
    (0.266, -0.004), (0.269, -0.007), (0.272, -0.008), (0.275, -0.005), (0.278, -0.008), (0.281, -0.006),
    (0.284, -0.008), (0.287, -0.004), (0.290, -0.007), (0.293, -0.008), (0.296, -0.005), (0.299, -0.008),
    (0.302, -0.006), (0.305, -0.008), (0.308, -0.004), (0.311, -0.007), (0.314, -0.008), (0.317, -0.005),
    (0.320, -0.008), (0.323, -0.006), (0.326, -0.008), (0.329, -0.004), (0.332, -0.007), (0.335, -0.008),
    (0.338, -0.005), (0.341, -0.008), (0.344, -0.003), (0.347, -0.007), (0.350, -0.008), (0.353, -0.005),
    (0.356, -0.008), (0.359, -0.006), (0.362, -0.008), (0.365, -0.004), (0.368, -0.007), (0.371, -0.008),
    (0.374, -0.005), (0.377, -0.008), (0.380, -0.006), (0.383, -0.008), (0.386, -0.004), (0.389, -0.007),
    (0.392, -0.008), (0.395, -0.005), (0.398, -0.008), (0.401, -0.006), (0.404, -0.008), (0.407, -0.004),
    (0.410, -0.007), (0.413, -0.008), (0.416, -0.005), (0.419, -0.008), (0.422, -0.006), (0.425, -0.008),
    (0.428, -0.004), (0.431, -0.007), (0.434, -0.008), (0.437, -0.005), (0.440, -0.008), (0.443, -0.006),
    (0.446, -0.008), (0.449, -0.004), (0.452, -0.007), (0.455, -0.008), (0.458, -0.005), (0.461, -0.008),
    (0.464, -0.006), (0.467, -0.008), (0.470, -0.004), (0.473, -0.007), (0.476, -0.008), (0.479, -0.005),
    (0.482, -0.008), (0.485, -0.006), (0.488, -0.008), (0.491, -0.004), (0.494, -0.007), (0.497, -0.008),
    (0.500, -0.005),
    (0.070, 0.001), (0.078, -0.001), (0.086, 0.002), (0.094, 0.000), (0.103, 0.003), (0.111, -0.001),
    (0.119, 0.001), (0.127, 0.003), (0.136, 0.000), (0.144, 0.002), (0.152, -0.001), (0.160, 0.003),
    (0.168, 0.001), (0.177, -0.002), (0.185, 0.002), (0.193, 0.000), (0.201, 0.003), (0.209, -0.001),
    (0.217, 0.001), (0.225, -0.002), (0.233, 0.002), (0.241, -0.001), (0.249, 0.001), (0.257, -0.002),
    (0.265, 0.001), (0.273, -0.002), (0.281, 0.000), (0.289, -0.002), (0.297, 0.001), (0.305, -0.001),
    (0.313, 0.002), (0.321, -0.002), (0.329, 0.000), (0.337, -0.002), (0.345, 0.001), (0.353, -0.002),
    (0.361, 0.000), (0.369, -0.002), (0.377, 0.002), (0.385, -0.001), (0.393, 0.000), (0.401, -0.002),
    (0.409, 0.001), (0.417, -0.002), (0.425, 0.000), (0.433, -0.002), (0.441, 0.001), (0.449, -0.001),
    (0.457, 0.002), (0.465, -0.002), (0.473, 0.000), (0.481, -0.002), (0.489, 0.001), (0.497, -0.001),
]

x_ticks = [0, 0.1, 0.2, 0.3, 0.4, 0.5]
x_ticktext = ["0", "0.1", "0.2", "0.3", "0.4", "0.5"]
y_ticks = [-0.05, 0, 0.05, 0.1, 0.15, 0.2, 0.25]
y_ticktext = ["-0.05", "0", "0.05", "0.1", "0.15", "0.2", "0.25"]

RED = "#FF0000"
BLUE = "#1F4E79"
FONT = "Lato"


def expand(cols):
    xs, ys = [], []
    for cx, vals in cols.items():
        for v in vals:
            xs.append(cx)
            ys.append(v)
    return xs, ys


def unzip(pairs):
    return [p[0] for p in pairs], [p[1] for p in pairs]


fig = go.Figure()
RANKS = {"1% quantile": 4, "5% quantile": 5, "10 quantile": 6, "50% qunatile": 7}


def add_panel(xa, ya, dense_cols, open_lists, blue_pts, red_pts, qx, lines, legend):
    dx, dy = expand(dense_cols)
    ox, oy = list(dx), list(dy)
    for lst in open_lists:
        a, b = unzip(lst)
        ox += a
        oy += b
    (q1h, q5h, q10h, q50, q10l, q5l, q1l) = lines
    specs = [
        (q1h, RED, "6px,3px", "1% quantile", True),
        (q5h, BLUE, "6px,3px", "5% quantile", True),
        (q10h, "black", "6px,3px", "10 quantile", True),
        (q50, "black", "solid", "50% qunatile", True),
        (q10l, "black", "6px,3px", "10 quantile", False),
        (q5l, BLUE, "6px,3px", "5% quantile", False),
        (q1l, RED, "6px,3px", "1% quantile", False),
    ]
    bxs, bys = unzip(blue_pts)
    rxs, rys = unzip(red_pts)
    fig.add_trace(go.Scatter(x=ox, y=oy, mode="markers", name="p > 5%", xaxis=xa, yaxis=ya,
                             marker=dict(symbol="circle-open", size=8, color="rgba(0,0,0,0.85)",
                                         line=dict(width=1.3)),
                             showlegend=legend, legendrank=3, legendgroup="o" + ya))
    for ys, col, dash, name, show in specs:
        fig.add_trace(go.Scatter(
            x=qx, y=ys, mode="lines", name=name, xaxis=xa, yaxis=ya,
            line=dict(color=col, width=2, dash=dash),
            showlegend=legend and show, legendrank=RANKS[name],
            legendgroup=name + ya))
    fig.add_trace(go.Scatter(x=bxs, y=bys, mode="markers", name="p <= 5%", xaxis=xa, yaxis=ya,
                             marker=dict(size=8, color=BLUE), showlegend=legend, legendrank=2,
                             legendgroup="b" + ya))
    fig.add_trace(go.Scatter(x=rxs, y=rys, mode="markers", name="p <=1%", xaxis=xa, yaxis=ya,
                             marker=dict(size=9, color=RED), showlegend=legend, legendrank=1,
                             legendgroup="r" + ya))


add_panel("x", "y", top_dense_cols, [top_open, top_band], top_blue, top_red, qx_top,
          (q1_hi_top, q5_hi_top, q10_hi_top, q50_top, q10_lo_top, q5_lo_top, q1_lo_top), True)
add_panel("x2", "y2", bot_dense_cols, [bot_open, bot_band], bot_blue, bot_red, qx_bot,
          (q1_hi_bot, q5_hi_bot, q10_hi_bot, q50_bot, q10_lo_bot, q5_lo_bot, q1_lo_bot), False)

axis_common = dict(showgrid=True, gridcolor="#D9D9D9", gridwidth=1.3, zeroline=False,
                   showline=True, linecolor="#404040", linewidth=1.5,
                   tickfont=dict(family=FONT, size=22, color="#222222"), ticks="")
fig.update_layout(
    width=1017, height=1313,
    margin=dict(l=128, r=0, t=23, b=82),
    paper_bgcolor="white", plot_bgcolor="white",
    font=dict(family=FONT, color="black"),
    xaxis=dict(domain=[0, 1], range=[0, 0.542], anchor="y", tickvals=x_ticks, ticktext=x_ticktext,
               showticklabels=False, mirror=True, **axis_common),
    yaxis=dict(domain=[0.5166, 1], range=[-0.05, 0.25], anchor="x", tickvals=y_ticks,
               ticktext=y_ticktext, ticklabelstandoff=20, **axis_common),
    xaxis2=dict(domain=[0, 1], range=[0, 0.542], anchor="y2", tickvals=x_ticks, ticktext=x_ticktext,
                mirror=True, ticklabelstandoff=12, **axis_common),
    yaxis2=dict(domain=[0, 0.4826], range=[-0.05, 0.25], anchor="x2", tickvals=y_ticks,
                ticktext=y_ticktext, ticklabelstandoff=20, **axis_common),
    legend=dict(x=0.024, y=1.0, xanchor="left", yanchor="top", bgcolor="rgba(0,0,0,0)",
                font=dict(family=FONT, size=22, color="black"), tracegroupgap=1,
                traceorder="normal", itemwidth=30),
    showlegend=True,
)

annotations = [
    dict(text="<b><i>O. glaberrima</i></b>", x=0.4533, y=0.9777, xref="paper", yref="paper",
         xanchor="center", yanchor="middle", showarrow=False,
         font=dict(family=FONT, size=34, color="black")),
    dict(text="<b><i>O. sativa japonica</i></b>", x=0.487, y=0.4594, xref="paper", yref="paper",
         xanchor="center", yanchor="middle", showarrow=False,
         font=dict(family=FONT, size=34, color="black")),
    dict(text="<b>F<sub>ST</sub></b>", x=-0.116, y=0.7583, xref="paper", yref="paper",
         xanchor="center", yanchor="middle", showarrow=False, textangle=-90,
         font=dict(family=FONT, size=22, color="black")),
    dict(text="<b>F<sub>ST</sub></b>", x=-0.116, y=0.2409, xref="paper", yref="paper",
         xanchor="center", yanchor="middle", showarrow=False, textangle=-90,
         font=dict(family=FONT, size=22, color="black")),
    dict(text="<b>Heterozygosity</b>", x=0.479, y=-0.0571, xref="paper", yref="paper",
         xanchor="center", yanchor="middle", showarrow=False,
         font=dict(family=FONT, size=24, color="black")),
]
fig.update_layout(annotations=annotations)

fig.write_html("out.html")
